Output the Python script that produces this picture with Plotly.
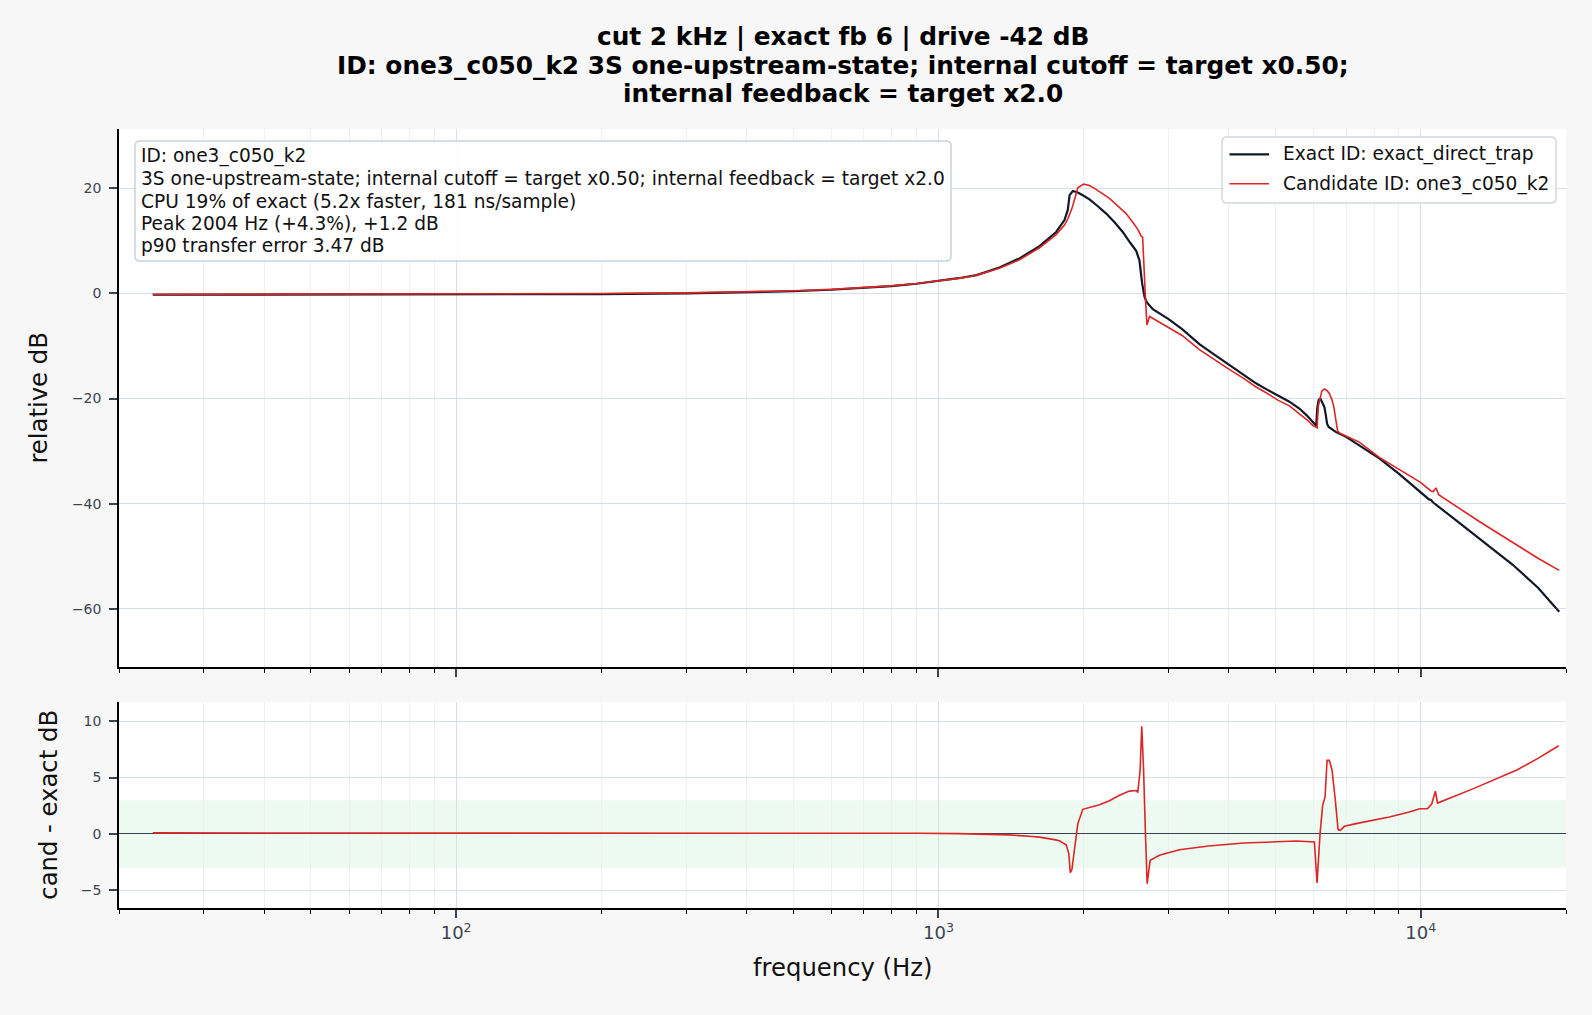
import math
import plotly.graph_objects as go

# ---------------- data ----------------
exact_freq_hz = [23.5, 50, 100, 150, 200, 300, 400, 500, 600, 700, 800, 900, 1000, 1100, 1200,
                 1338, 1472, 1620, 1754, 1825, 1854, 1870, 1899, 1945, 2000, 2056, 2140, 2227,
                 2320, 2410, 2500, 2570, 2610, 2644, 2674, 2700, 2782, 2900, 3000, 3200, 3475,
                 3700, 4000, 4300, 4553, 4800, 5092, 5340, 5601, 5800, 6017, 6070, 6100, 6141,
                 6190, 6259, 6310, 6350, 6392, 6442, 6550, 6673, 7000, 7457, 7946, 8204, 9000,
                 10000, 10400, 10500, 10580, 11500, 13220, 15490, 17500, 19360]
exact_db = [-0.25, -0.25, -0.22, -0.18, -0.12, 0.0, 0.18, 0.42, 0.7, 1.02, 1.4, 1.85, 2.35, 2.9, 3.5,
            4.95, 6.67, 9.0, 11.7, 13.96, 15.9, 18.7, 19.5, 19.2, 18.6, 17.9, 16.6, 15.2,
            13.5, 11.7, 9.6, 8.1, 6.3, 1.9, -0.6, -1.6, -3.0, -4.0, -4.9, -6.8, -9.66,
            -11.4, -13.5, -15.4, -17.1, -18.3, -19.6, -20.6, -21.9, -23.2, -24.8, -25.2, -21.8, -20.3,
            -20.0, -21.0, -21.6, -23.0, -24.8, -25.4, -25.9, -26.4, -27.3, -28.9, -30.5, -31.4, -34.3,
            -37.9, -39.2, -39.3, -39.7, -42.3, -46.6, -51.6, -56.0, -60.6]

cand_freq_hz = [23.5, 50, 100, 150, 200, 300, 400, 500, 600, 700, 800, 900, 1000, 1100, 1200,
                1338, 1472, 1620, 1754, 1825, 1854, 1876, 1890, 1924, 1945, 1998, 2050, 2106,
                2180, 2262, 2350, 2449, 2540, 2590, 2632, 2650, 2686, 2705, 2740, 2800, 3000,
                3200, 3475, 3700, 4000, 4300, 4553, 4800, 5055, 5340, 5600, 5800, 5970, 6067,
                6095, 6130, 6182, 6237, 6310, 6392, 6463, 6546, 6600, 6650, 6722, 6800, 7000,
                7457, 8204, 9000, 10000, 10498, 10620, 10752, 10886, 13220, 15490, 17500, 19360]
cand_db = [-0.15, -0.15, -0.12, -0.08, -0.02, 0.1, 0.28, 0.5, 0.77, 1.08, 1.45, 1.88, 2.35, 2.87, 3.45,
           4.8, 6.4, 8.7, 11.2, 13.0, 14.2, 15.5, 16.1, 18.55, 20.1, 20.8, 20.6, 20.0,
           19.1, 18.1, 16.7, 15.2, 13.3, 12.2, 10.9, 10.7, -0.8, -6.0, -4.4, -4.9, -6.35,
           -8.0, -10.7, -12.4, -14.4, -16.2, -17.8, -19.0, -20.3, -21.4, -22.9, -24.0, -25.1, -25.4,
           -25.6, -21.5, -20.0, -18.55, -18.2, -18.5, -19.05, -20.3, -21.5, -23.3, -26.2, -26.6, -27.1,
           -28.3, -31.2, -33.5, -36.0, -37.6, -37.7, -37.0, -38.3, -43.4, -47.4, -50.4, -52.7]

diff_freq_hz = [23.5, 100, 300, 600, 900, 1100, 1270, 1400, 1565, 1620, 1738, 1782, 1820, 1840,
                1863, 1876, 1890, 1924, 1945, 1992, 2100, 2157, 2262, 2373, 2489, 2570, 2589,
                2619, 2639, 2661, 2686, 2708, 2747, 2872, 3159, 3630, 4297, 4977, 5340, 5527,
                6017, 6094, 6182, 6259, 6332, 6392, 6463, 6546, 6650, 6736, 6811, 6942, 7340,
                8603, 9467, 9950, 10320, 10540, 10720, 10830, 12820, 14000, 15820, 17500, 19320]
diff_db = [0.1, 0.1, 0.1, 0.08, 0.06, 0.03, 0.0, -0.08, -0.22, -0.28, -0.5, -0.6, -0.85, -0.95,
           -1.74, -3.42, -3.2, -0.85, 0.92, 2.19, 2.45, 2.6, 2.95, 3.43, 3.8, 3.85, 3.67,
           5.65, 9.55, 5.95, 0.05, -4.4, -2.33, -1.89, -1.39, -1.06, -0.8, -0.7, -0.6, -0.62,
           -0.7, -4.34, 0.03, 2.54, 3.28, 6.53, 6.53, 5.65, 2.99, 0.39, 0.33, 0.68, 0.92,
           1.5, 1.95, 2.24, 2.24, 2.68, 3.79, 2.74, 4.0, 4.7, 5.68, 6.7, 7.82]

tolerance_db = 3.0
x_range_hz = [20, 20000]
top_y_range = [-71.1, 31.3]
bottom_y_range = [-6.56, 11.7]
top_y_ticks = [-60, -40, -20, 0, 20]
bottom_y_ticks = [-5, 0, 5, 10]
x_major_ticks = [100, 1000, 10000]
x_major_text = ["10<sup>2</sup>", "10<sup>3</sup>", "10<sup>4</sup>"]
x_minor_ticks = [20, 30, 40, 50, 60, 70, 80, 90, 200, 300, 400, 500, 600, 700, 800, 900,
                 2000, 3000, 4000, 5000, 6000, 7000, 8000, 9000, 20000]

series_names = ["Exact ID: exact_direct_trap", "Candidate ID: one3_c050_k2"]
title_lines = ["cut 2 kHz | exact fb 6 | drive -42 dB",
               "ID: one3_c050_k2 3S one-upstream-state; internal cutoff = target x0.50;",
               "internal feedback = target x2.0"]
info_lines = ["ID: one3_c050_k2",
              "3S one-upstream-state; internal cutoff = target x0.50; internal feedback = target x2.0",
              "CPU 19% of exact (5.2x faster, 181 ns/sample)",
              "Peak 2004 Hz (+4.3%), +1.2 dB",
              "p90 transfer error 3.47 dB"]

# ---------------- layout helpers ----------------
W, H = 1592, 1015
FONT = "DejaVu Sans"
def px(x):
    return x / W
def py(y):
    return 1 - y / H

def rounded_box(x0, y0, x1, y1, r):
    X0, X1 = px(x0), px(x1)
    Y0, Y1 = py(y0), py(y1)
    rx, ry = r / W, r / H
    return (f"M {X0+rx},{Y0} L {X1-rx},{Y0} Q {X1},{Y0} {X1},{Y0-ry} "
            f"L {X1},{Y1+ry} Q {X1},{Y1} {X1-rx},{Y1} "
            f"L {X0+rx},{Y1} Q {X0},{Y1} {X0},{Y1+ry} "
            f"L {X0},{Y0-ry} Q {X0},{Y0} {X0+rx},{Y0} Z")

XD = [px(119), px(1566)]
TOP_D = [py(667), py(129)]
BOT_D = [py(908), py(702)]
XR = [math.log10(x_range_hz[0]), math.log10(x_range_hz[1])]

EXACT_C = "#111827"
CAND_C = "#dc2626"
GRID_C = "#d9dfe8"
MINOR_GRID_C = "#eceff4"
TICK_C = "#3d4451"
EXACT_W = 2.2
CAND_W = 1.6

fig = go.Figure()
fig.add_trace(go.Scatter(x=exact_freq_hz, y=exact_db, mode="lines", name=series_names[0],
                         line=dict(color=EXACT_C, width=EXACT_W), xaxis="x", yaxis="y", showlegend=False))
fig.add_trace(go.Scatter(x=cand_freq_hz, y=cand_db, mode="lines", name=series_names[1],
                         line=dict(color=CAND_C, width=CAND_W), xaxis="x", yaxis="y", showlegend=False))
fig.add_trace(go.Scatter(x=diff_freq_hz, y=diff_db, mode="lines", showlegend=False,
                         line=dict(color=CAND_C, width=CAND_W), xaxis="x2", yaxis="y2"))

def xaxis_common(show_labels):
    return dict(type="log", domain=XD, range=XR,
                tickmode="array", tickvals=x_major_ticks, ticktext=x_major_text,
                showticklabels=show_labels, ticks="outside", ticklen=8, tickwidth=1.5, tickcolor=TICK_C,
                showgrid=True, gridcolor=GRID_C, gridwidth=1,
                minor=dict(tickmode="array", tickvals=x_minor_ticks, ticks="outside", ticklen=4,
                           tickwidth=1.2, tickcolor="#000000", showgrid=True, gridcolor=MINOR_GRID_C,
                           gridwidth=1),
                showline=True, linecolor="#000000", linewidth=1.5, zeroline=False,
                tickfont=dict(family=FONT, size=18, color=TICK_C))

def yaxis_common(domain, rng, ticks):
    return dict(domain=domain, range=rng, tickmode="array", tickvals=ticks,
                ticks="outside", ticklen=8, tickwidth=1.5, tickcolor=TICK_C,
                showgrid=True, gridcolor=GRID_C, gridwidth=1,
                showline=True, linecolor="#000000", linewidth=1.5, ticklabelstandoff=5,
                tickfont=dict(family=FONT, size=14, color=TICK_C))

xa1 = xaxis_common(False); xa1["anchor"] = "y"; xa1["matches"] = "x2"
xa2 = xaxis_common(True); xa2["anchor"] = "y2"
ya1 = yaxis_common(TOP_D, top_y_range, top_y_ticks); ya1["anchor"] = "x"; ya1["zeroline"] = False
ya2 = yaxis_common(BOT_D, bottom_y_range, bottom_y_ticks); ya2["anchor"] = "x2"
ya2.update(zeroline=True, zerolinecolor="#374151", zerolinewidth=1.4)

shapes = [
    dict(type="rect", xref="x2 domain", yref="y2", x0=0, x1=1, y0=-tolerance_db, y1=tolerance_db,
         fillcolor="#edfaf1", line=dict(width=0), layer="below"),
    dict(type="path", xref="paper", yref="paper", path=rounded_box(135, 141, 951, 261, 5),
         fillcolor="rgba(255,255,255,0.92)", line=dict(color="#c8d2dd", width=1.5), layer="above"),
    dict(type="path", xref="paper", yref="paper", path=rounded_box(1222, 137, 1556, 203, 5),
         fillcolor="rgba(255,255,255,0.92)", line=dict(color="#d2d6db", width=1.5), layer="above"),
]
legend_rows_y = [154.3, 183.8]
legend_colors = [EXACT_C, CAND_C]
legend_widths = [EXACT_W, CAND_W]
for yy, c, w in zip(legend_rows_y, legend_colors, legend_widths):
    shapes.append(dict(type="line", xref="paper", yref="paper", x0=px(1229.5), x1=px(1269),
                       y0=py(yy), y1=py(yy), line=dict(color=c, width=w), layer="above"))

annotations = []
title_y = [36.5, 65.0, 93.4]
for t, yy in zip(title_lines, title_y):
    annotations.append(dict(text="<b>" + t + "</b>", xref="paper", yref="paper", x=px(842.5), y=py(yy),
                            xanchor="center", yanchor="middle", showarrow=False,
                            font=dict(family=FONT, size=24.8, color="#000000")))
info_y = [156.4, 178.7, 201.0, 223.4, 245.7]
for t, yy in zip(info_lines, info_y):
    annotations.append(dict(text=t, xref="paper", yref="paper", x=px(139), y=py(yy),
                            xanchor="left", yanchor="middle", showarrow=False,
                            font=dict(family=FONT, size=18.6, color="#111111")))
for t, yy in zip(series_names, legend_rows_y):
    annotations.append(dict(text=t, xref="paper", yref="paper", x=px(1280.5), y=py(yy),
                            xanchor="left", yanchor="middle", showarrow=False,
                            font=dict(family=FONT, size=18.6, color="#111111")))
annotations.append(dict(text="relative dB", xref="paper", yref="paper", x=px(37.6), y=py(398),
                        xanchor="center", yanchor="middle", textangle=-90, showarrow=False,
                        font=dict(family=FONT, size=24.3, color="#111111")))
annotations.append(dict(text="cand - exact dB", xref="paper", yref="paper", x=px(47.7), y=py(805),
                        xanchor="center", yanchor="middle", textangle=-90, showarrow=False,
                        font=dict(family=FONT, size=24.3, color="#111111")))
annotations.append(dict(text="frequency (Hz)", xref="paper", yref="paper", x=px(842.5), y=py(967.6),
                        xanchor="center", yanchor="middle", showarrow=False,
                        font=dict(family=FONT, size=24.3, color="#111111")))

fig.update_layout(
    width=W, height=H, margin=dict(l=0, r=0, t=0, b=0),
    paper_bgcolor="#f7f7f7", plot_bgcolor="#ffffff",
    font=dict(family=FONT, size=14, color="#111111"),
    xaxis=xa1, xaxis2=xa2, yaxis=ya1, yaxis2=ya2,
    shapes=shapes, annotations=annotations,
    showlegend=False,
)

fig.write_html("out.html")
